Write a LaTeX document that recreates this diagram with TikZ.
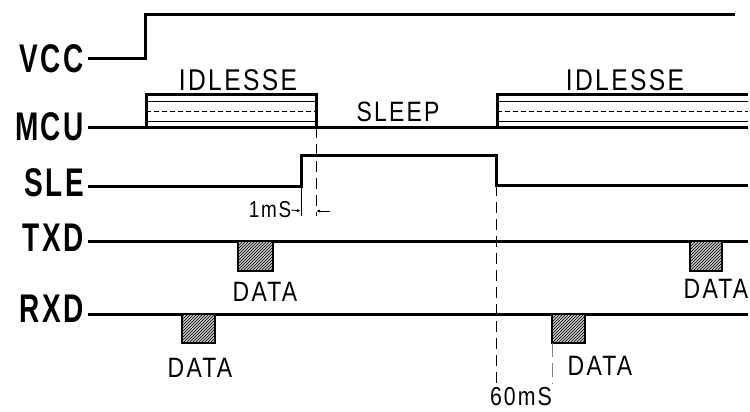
\documentclass[tikz,border=0pt]{standalone}
\usepackage{fontspec}
\setmainfont{Liberation Sans}
\newfontfamily\sigfont[FakeStretch=0.7,LetterSpace=6]{Liberation Sans}
\newfontfamily\txtfont[FakeStretch=0.82,LetterSpace=8]{Liberation Sans}
\usetikzlibrary{patterns,arrows.meta}

\begin{document}
\begin{tikzpicture}[x=1pt,y=-1pt,
  sig/.style={line width=3pt,line join=miter},
  fine/.style={line width=0.9pt},
  dline/.style={line width=1pt,dash pattern=on 11pt off 6pt},
  signame/.style={anchor=east,inner sep=0pt,font=\sigfont\bfseries\fontsize{40}{40}\selectfont},
  lbl/.style={inner sep=0pt,font=\txtfont\fontsize{28}{28}\selectfont},
  small/.style={inner sep=0pt,font=\txtfont\fontsize{23}{23}\selectfont},
  datbox/.style={draw,line width=2.5pt,preaction={fill=gray!45},pattern=north east lines}]
\useasboundingbox (0,0) rectangle (750,412);
% signal names
\node[signame] (vcc) at (84,59) {VCC};
\node[signame] (mcu) at (84,127) {MCU};
\node[signame] (sle) at (84,183) {SLE};
\node[signame] (txd) at (84,238) {TXD};
\node[signame] (rxd) at (84,309) {RXD};
% VCC
\draw[sig] (88,59) -- (145,59) -- (145,15) -- (735,15);
% MCU
\draw[sig] (88,127) -- (748,127);
\draw[sig] (146,127) -- (146,95) -- (316,95) -- (316,127);
\draw[sig] (748,95) -- (497,95) -- (497,127);
\foreach \xa/\xb in {146/316,497/748}{
  \draw[fine] (\xa,101) -- (\xb,101);
  \draw[fine] (\xa,121) -- (\xb,121);
  \draw[fine,dash pattern=on 5pt off 3pt] (\xa,111) -- (\xb,111);
}
\node[lbl,font=\txtfont\fontsize{30}{30}\selectfont] (idl1) at (238,80) {IDLESSE};
\node[lbl,font=\txtfont\fontsize{30}{30}\selectfont] (idl2) at (625,80) {IDLESSE};
\node[lbl] (slp) at (398,112) {SLEEP};
% SLE
\draw[sig] (88,186) -- (301,186) -- (301,155) -- (496,155) -- (496,185) -- (748,185);
\draw[fine] (301,186) -- (301,216);
\draw[dline] (316,127) -- (316,216);
\node[small] (t1) at (270,210) {1mS};
\draw[fine,-{Latex[length=4pt,width=3pt]}] (t1.east) -- (301,211);
\draw[fine,-{Latex[length=4pt,width=3pt]}] (330,211) -- (316,211);
% TXD
\draw[sig] (88,241) -- (748,241);
\draw[datbox] (238,241) rectangle (273,271);
\draw[datbox] (690,241) rectangle (722,271);
\node[lbl] (d1) at (265,292) {DATA};
\node[lbl] (d2) at (716,289) {DATA};
% RXD
\draw[sig] (88,314) -- (748,314);
\draw[datbox] (182,314) rectangle (215,343);
\draw[datbox] (552,314) rectangle (585,343);
\node[lbl] (d3) at (200,368) {DATA};
\node[lbl] (d4) at (600,366) {DATA};
% timing marks
\draw[dline] (496,185) -- (496,384);
\draw[fine,gray,dash pattern=on 14pt off 6pt] (552,343) -- (552,384);
\node[lbl,font=\txtfont\fontsize{26}{26}\selectfont] (t60) at (521,397) {60mS};
\end{tikzpicture}
\end{document}
